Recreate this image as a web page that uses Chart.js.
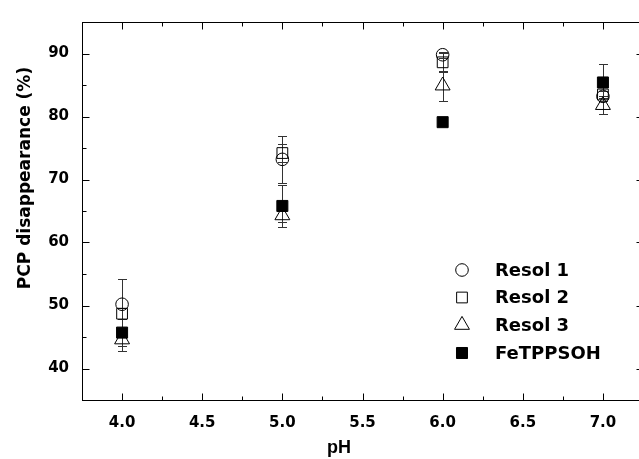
<!DOCTYPE html>
<html>
<head>
<meta charset="utf-8">
<script src="https://cdn.jsdelivr.net/npm/chart.js@4.4.0/dist/chart.umd.min.js"></script>
<style>
  html, body { margin: 0; padding: 0; background: #fff; overflow: hidden; width: 639px; height: 459px; }
  #wrap { width: 660px; height: 459px; }
</style>
</head>
<body>
<div id="wrap"><canvas id="chart" width="660" height="459"></canvas></div>
<script>
// data
const phValues = [4.0, 5.0, 6.0, 7.0];
const resol1 = [50.2, 73.2, 89.8, 83.2];
const resol1Err = [4.0, 3.7, 0.5, 0.8];
const resol2 = [48.7, 74.2, 88.6, 83.5];
const resol2Err = [0.9, 1.4, 1.5, 0.6];
const resol3 = [44.6, 64.3, 84.9, 81.8];
const resol3Err = [1.9, 1.0, 2.4, 1.4];
const feTPPSOH = [45.7, 65.8, 79.1, 85.4];
const feTPPSOHErr = [2.2, 3.3, 0.5, 3.0];
const seriesLabels = ['Resol 1', 'Resol 2', 'Resol 3', 'FeTPPSOH'];

const xTicks = [4.0, 4.5, 5.0, 5.5, 6.0, 6.5, 7.0];
const xMinorTicks = [4.25, 4.75, 5.25, 5.75, 6.25, 6.75];
const yTicks = [40, 50, 60, 70, 80, 90];
const yMinorTicks = [45, 55, 65, 75, 85];

const FONT = "'Liberation Sans', Arial, sans-serif";
const WIDE = "'DejaVu Sans', sans-serif";

function pts(ys) {
  return phValues.map(function(x, i) { return { x: x, y: ys[i] }; });
}

function makeSet(label, ys, errs, style, radius, fill, order) {
  return {
    label: label,
    data: pts(ys),
    errors: errs,
    pointStyle: style,
    pointRadius: radius,
    pointHoverRadius: radius,
    pointBackgroundColor: fill,
    pointBorderColor: '#000',
    pointBorderWidth: 1,
    showLine: false,
    order: order
  };
}

// error bars, drawn under the markers
const errorBars = {
  id: 'errorBars',
  beforeDatasetsDraw: function(chart) {
    const ctx = chart.ctx;
    const xs = chart.scales.x, ys = chart.scales.y;
    ctx.save();
    ctx.strokeStyle = '#333';
    ctx.lineWidth = 1;
    chart.data.datasets.forEach(function(ds) {
      ds.data.forEach(function(p, i) {
        const e = ds.errors[i];
        const px = Math.round(xs.getPixelForValue(p.x)) + 0.5;
        const top = Math.round(ys.getPixelForValue(p.y + e)) + 0.5;
        const bot = Math.round(ys.getPixelForValue(p.y - e)) + 0.5;
        ctx.beginPath();
        ctx.moveTo(px, top); ctx.lineTo(px, bot);
        ctx.moveTo(px - 4.5, top); ctx.lineTo(px + 4.5, top);
        ctx.moveTo(px - 4.5, bot); ctx.lineTo(px + 4.5, bot);
        ctx.stroke();
      });
    });
    ctx.restore();
  }
};

// box frame with inward ticks on all four sides, axis titles, legend
const frame = {
  id: 'frame',
  afterDraw: function(chart) {
    const ctx = chart.ctx;
    const a = chart.chartArea;
    const xs = chart.scales.x, ys = chart.scales.y;
    ctx.save();
    ctx.strokeStyle = '#000';
    ctx.lineWidth = 1;
    const L = Math.round(a.left) + 0.5, R = Math.round(a.right) + 0.5;
    const T = Math.round(a.top) + 0.5, B = Math.round(a.bottom) + 0.5;
    ctx.strokeRect(L, T, R - L, B - T);
    ctx.beginPath();
    function xt(v, len) {
      const px = Math.round(xs.getPixelForValue(v)) + 0.5;
      ctx.moveTo(px, B); ctx.lineTo(px, B - len);
      ctx.moveTo(px, T); ctx.lineTo(px, T + len);
    }
    function yt(v, len) {
      const py = Math.round(ys.getPixelForValue(v)) + 0.5;
      ctx.moveTo(L, py); ctx.lineTo(L + len, py);
      ctx.moveTo(R, py); ctx.lineTo(R - len, py);
    }
    xTicks.forEach(function(v) { xt(v, 7); });
    xMinorTicks.forEach(function(v) { xt(v, 4); });
    yTicks.forEach(function(v) { yt(v, 7); });
    yMinorTicks.forEach(function(v) { yt(v, 4); });
    ctx.stroke();

    // axis titles
    ctx.fillStyle = '#000';
    ctx.font = 'bold 18px ' + FONT;
    ctx.textAlign = 'center';
    ctx.textBaseline = 'alphabetic';
    ctx.fillText('pH', 339, 453);
    ctx.save();
    ctx.translate(30, 178);
    ctx.rotate(-Math.PI / 2);
    ctx.font = 'bold 17px ' + WIDE;
    ctx.fillText('PCP disappearance (%)', 0, 0);
    ctx.restore();

    // legend
    const rowY = [270, 297.5, 325, 353];
    chart.data.datasets.forEach(function(ds, i) {
      ctx.save();
      ctx.fillStyle = ds.pointBackgroundColor;
      ctx.strokeStyle = '#000';
      ctx.lineWidth = 1;
      Chart.helpers.drawPoint(ctx, { pointStyle: ds.pointStyle, radius: ds.pointRadius, borderWidth: 1, rotation: 0 }, 462, rowY[i]);
      ctx.restore();
      ctx.fillStyle = '#000';
      ctx.font = 'bold 18px ' + WIDE;
      ctx.textAlign = 'left';
      ctx.textBaseline = 'middle';
      ctx.fillText(ds.label, 495, rowY[i] + 1);
    });
    ctx.restore();
  }
};

new Chart(document.getElementById('chart'), {
  type: 'scatter',
  data: {
    datasets: [
      makeSet(seriesLabels[0], resol1, resol1Err, 'circle', 6.3, 'rgba(0,0,0,0)', 4),
      makeSet(seriesLabels[1], resol2, resol2Err, 'rect', 7.6, 'rgba(0,0,0,0)', 3),
      makeSet(seriesLabels[2], resol3, resol3Err, 'triangle', 8.6, 'rgba(0,0,0,0)', 2),
      makeSet(seriesLabels[3], feTPPSOH, feTPPSOHErr, 'rect', 7.8, '#000', 1)
    ]
  },
  options: {
    responsive: false,
    animation: false,
    layout: { padding: { top: 13, right: 17, bottom: 0, left: 0 } },
    plugins: { legend: { display: false }, tooltip: { enabled: false } },
    scales: {
      x: {
        type: 'linear',
        min: 3.75,
        max: 7.25,
        grid: { display: false, drawTicks: false },
        border: { display: false },
        afterBuildTicks: function(s) { s.ticks = xTicks.map(function(v) { return { value: v }; }); },
        afterFit: function(s) { s.height = 59; },
        ticks: {
          padding: 14,
          autoSkip: false,
          maxRotation: 0,
          color: '#000',
          font: { family: WIDE, size: 15, weight: 'bold' },
          callback: function(v) { return Number(v).toFixed(1); }
        }
      },
      y: {
        type: 'linear',
        min: 35,
        max: 95,
        grid: { display: false, drawTicks: false },
        border: { display: false },
        afterBuildTicks: function(s) { s.ticks = yTicks.map(function(v) { return { value: v }; }); },
        afterFit: function(s) { s.width = 82; },
        ticks: {
          padding: 13,
          color: '#000',
          font: { family: WIDE, size: 15, weight: 'bold' },
          callback: function(v) { return String(v); }
        }
      }
    }
  },
  plugins: [errorBars, frame]
});
</script>
</body>
</html>
